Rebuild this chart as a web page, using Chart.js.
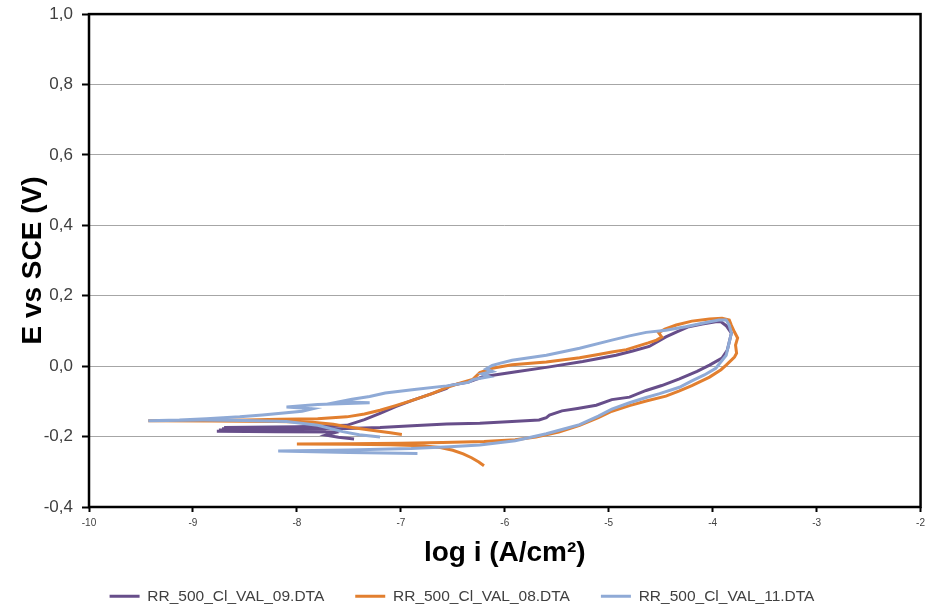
<!DOCTYPE html>
<html lang="fr">
<head>
    <meta charset="UTF-8">
    <title>Polarisation cyclique</title>
    <script src="https://cdn.jsdelivr.net/npm/chart.js"></script>
    <style>
        body {
            margin: 0;
            background: #fff;
        }
        .container {
            width: 930px;
            height: 611px;
        }
    </style>
</head>
<body>
    <div class="container">
        <canvas id="myChart"></canvas>
    </div>

    <script>
        // noms des fichiers
        var seriesNames = ['RR_500_Cl_VAL_09.DTA', 'RR_500_Cl_VAL_08.DTA', 'RR_500_Cl_VAL_11.DTA'];
        var seriesColors = ['#674E8A', '#E27F2F', '#8FAAD6'];

        // ticks
        var xTickValues = [-10, -9, -8, -7, -6, -5, -4, -3, -2];
        var yTickValues = [-0.4, -0.2, 0, 0.2, 0.4, 0.6, 0.8, 1.0];

        // VAL_09 (violet)
        var val09LogI = [-7.60, -8.20, -8.77, -8.45, -8.75, -8.40, -8.00, -7.52, -7.20, -6.89, -6.56, -6.24, -5.93, -5.67, -5.60,
            -5.57, -5.45, -5.30, -5.12, -4.97, -4.80, -4.64, -4.49, -4.32, -4.15, -4.03, -3.91, -3.86, -3.84, -3.82,
            -3.87, -3.92, -3.97, -4.10, -4.23, -4.35, -4.45, -4.61, -4.77, -4.93, -5.25, -5.57, -5.89, -6.21, -6.35,
            -6.53, -6.56, -6.70, -6.89, -7.05, -7.20, -7.35, -7.52, -8.00, -8.70, -8.30, -8.72, -8.20, -7.80, -7.65,
            -7.72, -7.60, -7.45];
        var val09E = [-0.187, -0.186, -0.185, -0.183, -0.181, -0.179, -0.178, -0.177, -0.174, -0.169, -0.164, -0.162, -0.157, -0.153, -0.146,
            -0.139, -0.127, -0.120, -0.111, -0.095, -0.088, -0.069, -0.055, -0.036, -0.015, 0.003, 0.023, 0.045, 0.069, 0.094,
            0.115, 0.126, 0.126, 0.120, 0.112, 0.097, 0.083, 0.056, 0.043, 0.031, 0.013, -0.002, -0.016, -0.030, -0.045,
            -0.055, -0.063, -0.078, -0.097, -0.115, -0.134, -0.152, -0.168, -0.172, -0.174, -0.176, -0.178, -0.181, -0.183, -0.190,
            -0.196, -0.202, -0.207];

        // VAL_08 (orange)
        var val08LogI = [-6.20, -6.25, -6.32, -6.40, -6.50, -6.62, -6.80, -7.10, -7.50, -8.00, -7.50, -7.00, -6.60, -6.20, -5.90,
            -5.70, -5.48, -5.28, -5.10, -4.97, -4.80, -4.64, -4.45, -4.32, -4.20, -4.03, -3.92, -3.87, -3.79, -3.77,
            -3.78, -3.76, -3.79, -3.82, -3.84, -3.91, -4.03, -4.20, -4.35, -4.46, -4.52, -4.49, -4.54, -4.62, -4.83,
            -4.97, -5.10, -5.28, -5.60, -5.93, -6.12, -6.24, -6.31, -6.45, -6.56, -6.70, -6.89, -7.05, -7.20, -7.35,
            -7.52, -7.80, -8.17, -8.48, -9.00, -9.43, -8.80, -8.20, -7.85, -7.65, -7.52, -7.30, -7.10, -6.99];
        var val08E = [-0.283, -0.272, -0.260, -0.249, -0.239, -0.231, -0.226, -0.223, -0.222, -0.221, -0.220, -0.219, -0.217, -0.214, -0.209,
            -0.201, -0.187, -0.168, -0.146, -0.128, -0.112, -0.099, -0.085, -0.070, -0.055, -0.031, -0.010, 0.003, 0.026, 0.037,
            0.060, 0.080, 0.097, 0.116, 0.131, 0.136, 0.134, 0.128, 0.117, 0.105, 0.095, 0.083, 0.074, 0.066, 0.047,
            0.040, 0.033, 0.024, 0.012, 0.004, -0.006, -0.018, -0.038, -0.050, -0.061, -0.078, -0.097, -0.112, -0.125, -0.136,
            -0.144, -0.149, -0.151, -0.153, -0.154, -0.155, -0.156, -0.157, -0.159, -0.165, -0.172, -0.181, -0.189, -0.194];

        // VAL_11 (bleu)
        var val11LogI = [-6.84, -7.50, -8.18, -7.50, -6.90, -6.53, -6.24, -5.90, -5.60, -5.45, -5.28, -5.10, -4.97, -4.80, -4.64,
            -4.51, -4.32, -4.20, -4.08, -3.97, -3.87, -3.84, -3.82, -3.84, -3.87, -3.94, -4.10, -4.26, -4.45, -4.64,
            -4.80, -4.97, -5.28, -5.60, -5.93, -6.05, -6.12, -6.18, -6.12, -6.22, -6.15, -6.30, -6.35, -6.56, -6.87,
            -7.15, -7.30, -7.47, -7.59, -7.30, -7.80, -8.10, -7.85, -7.95, -8.33, -8.55, -8.87, -9.13, -9.43, -8.90,
            -8.50, -8.10, -7.80, -7.56, -7.40, -7.20];
        var val11E = [-0.248, -0.245, -0.241, -0.238, -0.234, -0.229, -0.224, -0.212, -0.192, -0.180, -0.166, -0.142, -0.122, -0.104, -0.089,
            -0.078, -0.060, -0.042, -0.025, -0.006, 0.031, 0.069, 0.094, 0.116, 0.131, 0.131, 0.122, 0.112, 0.102, 0.096,
            0.086, 0.074, 0.051, 0.031, 0.017, 0.008, 0.002, -0.008, -0.015, -0.022, -0.030, -0.038, -0.046, -0.056, -0.066,
            -0.076, -0.086, -0.094, -0.101, -0.104, -0.109, -0.116, -0.121, -0.128, -0.139, -0.144, -0.149, -0.153, -0.155, -0.153,
            -0.154, -0.157, -0.168, -0.186, -0.195, -0.201];

        function toPoints(xs, ys) {
            var pts = [];
            for (var i = 0; i < xs.length; i++) {
                pts.push({ x: xs[i], y: ys[i] });
            }
            return pts;
        }

        var allLogI = [val09LogI, val08LogI, val11LogI];
        var allE = [val09E, val08E, val11E];
        var drawOrder = [2, 1, 0]; // bleu au-dessus

        var datasets = seriesNames.map(function(name, i) {
            return {
                label: name,
                data: toPoints(allLogI[i], allE[i]),
                borderColor: seriesColors[i],
                backgroundColor: seriesColors[i],
                borderWidth: 3,
                pointRadius: 0,
                showLine: true,
                tension: 0,
                order: drawOrder[i]
            };
        });

        // cadre noir autour de la zone de tracé
        var framePlugin = {
            id: 'frame',
            afterDatasetsDraw: function(chart) {
                var ctx = chart.ctx, a = chart.chartArea;
                ctx.save();
                ctx.strokeStyle = '#000';
                ctx.lineWidth = 2.5;
                ctx.strokeRect(a.left, a.top, a.right - a.left, a.bottom - a.top);
                ctx.restore();
            }
        };

        var ctx = document.getElementById('myChart').getContext('2d');
        var myChart = new Chart(ctx, {
            type: 'scatter',
            data: { datasets: datasets },
            plugins: [framePlugin],
            options: {
                responsive: true,
                maintainAspectRatio: false,
                animation: false,
                layout: {
                    padding: { top: 14, right: 6, left: 0, bottom: -3 }
                },
                plugins: {
                    tooltip: { enabled: false },
                    legend: {
                        position: 'bottom',
                        labels: {
                            sort: function(a, b) { return a.datasetIndex - b.datasetIndex; },
                            usePointStyle: true,
                            pointStyle: 'line',
                            pointStyleWidth: 30,
                            padding: 31,
                            color: '#404040',
                            font: { family: "'Liberation Sans', Arial, sans-serif", size: 15.5 }
                        }
                    }
                },
                scales: {
                    x: {
                        type: 'linear',
                        min: -10,
                        max: -2,
                        afterBuildTicks: function(scale) {
                            scale.ticks = xTickValues.map(function(v) { return { value: v }; });
                        },
                        afterFit: function(scale) { scale.height = 50.5; },
                        border: { display: false },
                        grid: {
                            drawOnChartArea: false,
                            drawTicks: true,
                            tickLength: 5,
                            tickColor: '#000',
                            tickWidth: 2
                        },
                        ticks: {
                            padding: 5,
                            color: '#404040',
                            maxRotation: 0,
                            font: { family: "'Liberation Sans', Arial, sans-serif", size: 10 },
                            callback: function(v) { return String(v); }
                        },
                        title: {
                            display: true,
                            text: 'log i (A/cm²)',
                            color: '#000',
                            padding: { top: 0, bottom: -9.5 },
                            font: { family: "'Liberation Sans', Arial, sans-serif", size: 28, weight: 'bold', lineHeight: 1 }
                        }
                    },
                    y: {
                        type: 'linear',
                        min: -0.4,
                        max: 1.0,
                        afterBuildTicks: function(scale) {
                            scale.ticks = yTickValues.map(function(v) { return { value: v }; });
                        },
                        afterFit: function(scale) { scale.width = 89; },
                        border: { display: false },
                        grid: {
                            color: '#a6a6a6',
                            lineWidth: 1,
                            drawTicks: true,
                            tickLength: 7,
                            tickColor: '#000',
                            tickWidth: 2
                        },
                        ticks: {
                            padding: 9,
                            color: '#404040',
                            font: { family: "'Liberation Sans', Arial, sans-serif", size: 17, lineHeight: 0.6 },
                            callback: function(v) {
                                if (Math.abs(v) < 1e-9) v = 0;
                                return v.toFixed(1).replace('.', ',');
                            }
                        },
                        title: {
                            display: true,
                            text: 'E vs SCE (V)',
                            color: '#000',
                            padding: { top: 16, bottom: 0 },
                            font: { family: "'Liberation Sans', Arial, sans-serif", size: 28, weight: 'bold', lineHeight: 1.2 }
                        }
                    }
                }
            }
        });
    </script>
</body>
</html>
